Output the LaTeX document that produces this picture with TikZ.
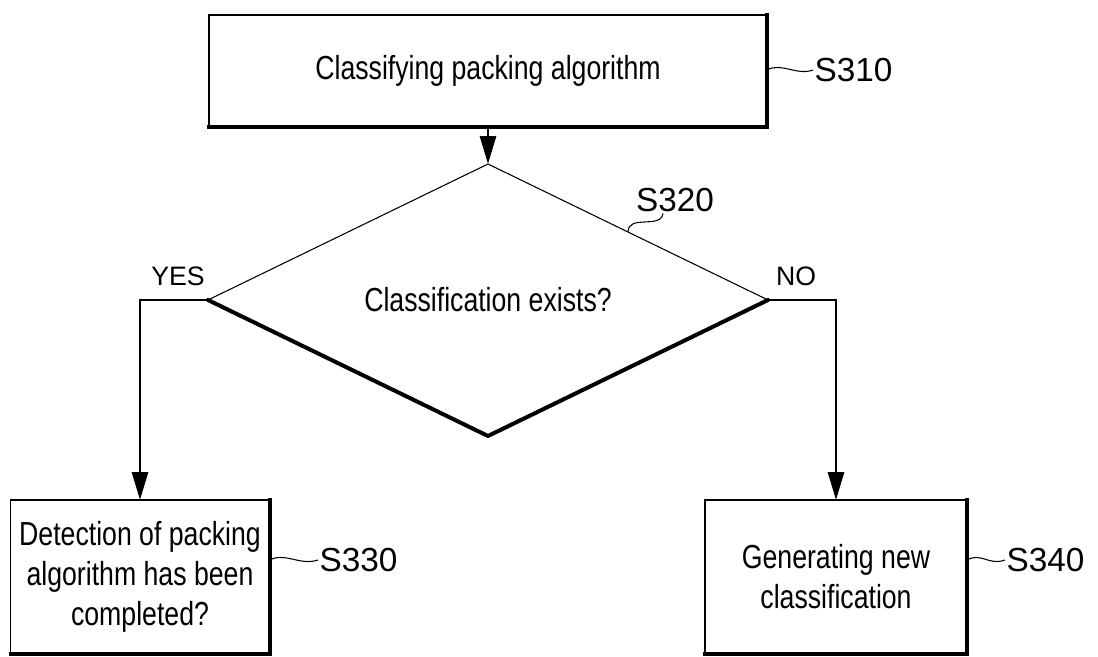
\documentclass[tikz,border=0pt]{standalone}
\usepackage{fontspec}
\setmainfont{Liberation Sans}
\newfontfamily\condfont{Liberation Sans}[FakeStretch=0.8]
\usetikzlibrary{arrows.meta,shapes.geometric,calc,positioning}
\tikzset{
    procbox/.style={draw,line width=0.8pt,inner sep=0pt,outer sep=0pt,align=center,
        font=\condfont\fontsize{25}{30}\selectfont},
    testbox/.style={procbox,shape=diamond},
    heavy/.style={line width=3pt,line cap=rect},
    flow/.style={line width=2.2pt,-{Triangle[length=21pt,width=12pt]}},
    leader/.style={line width=0.8pt},
    steplabel/.style={inner sep=1pt,font=\fontsize{25}{30}\selectfont},
    branchlabel/.style={inner sep=0pt,font=\fontsize{20}{24}\selectfont}
}

\begin{document}
\begin{tikzpicture}[x=0.75pt,y=-0.75pt]
    \useasboundingbox (0,0) rectangle (1098,656);

    % steps
    \node[procbox,minimum width=418.5pt,minimum height=84pt] (s310) at (488,71)
        {Classifying packing algorithm};
    \node[testbox,minimum width=420pt,minimum height=132pt] (d320) at (488,300)
        {Classification exists?};
    \node[procbox,minimum width=194.25pt,minimum height=115.5pt] (s330) at (140,577)
        {Detection of packing\\algorithm has been\\completed?};
    \node[procbox,minimum width=196.5pt,minimum height=115.5pt] (s340) at (836,577)
        {Generating new\\classification};

    % heavy edges
    \draw[heavy] (s310.south west) -- (s310.south east) -- (s310.north east);
    \draw[heavy,line cap=round] (d320.west) -- (d320.south) -- (d320.east);
    \draw[heavy] (s330.south west) -- (s330.south east) -- (s330.north east);
    \draw[heavy] (s340.south west) -- (s340.south east) -- (s340.north east);

    % flow
    \draw[flow] (s310.south) -- (d320.north);
    \draw[flow] (d320.west) -| (s330.north);
    \draw[flow] (d320.east) -| (s340.north);
    \node[branchlabel,anchor=base] (yes) at (178,285) {YES};
    \node[branchlabel,anchor=base] (no) at (796,285) {NO};

    % step numbers
    \node[steplabel,anchor=west] (l310) at (813,70) {S310};
    \node[steplabel] (l320) at (675,200) {S320};
    \node[steplabel,anchor=west] (l330) at (318,560) {S330};
    \node[steplabel,anchor=west] (l340) at (1005,560) {S340};

    \draw[leader] (s310.east |- l310.west) .. controls +(14,-8) and +(-16,6) .. (l310.west);
    \draw[leader] (s330.east |- l330.west) .. controls +(16,-8) and +(-18,6) .. (l330.west);
    \draw[leader] (s340.east |- l340.west) .. controls +(14,-8) and +(-16,6) .. (l340.west);
    \draw[leader] ($(l320.south)+(-12,0)$) .. controls +(-2,16) and +(0,-18) ..
        ($(d320.north)!0.5!(d320.east)$);
\end{tikzpicture}
\end{document}
